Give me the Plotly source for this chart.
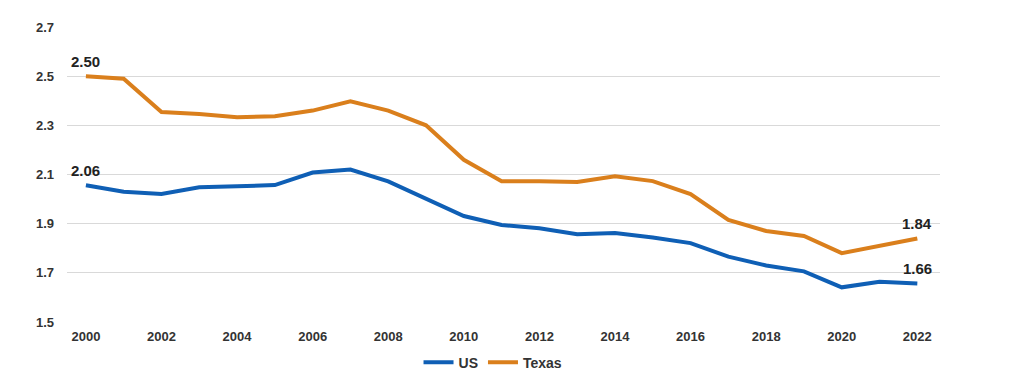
import plotly.graph_objects as go

years = list(range(2000, 2023))
us = [2.056, 2.030, 2.021, 2.048, 2.052, 2.057, 2.108, 2.120, 2.072, 2.002, 1.931,
      1.895, 1.881, 1.857, 1.862, 1.844, 1.821, 1.766, 1.730, 1.706, 1.641, 1.664, 1.657]
texas = [2.50, 2.49, 2.354, 2.346, 2.333, 2.337, 2.36, 2.398, 2.36, 2.30, 2.16,
         2.073, 2.073, 2.07, 2.093, 2.073, 2.02, 1.915, 1.87, 1.85, 1.78, 1.81, 1.84]
xticks = list(range(2000, 2023, 2))
yticks = [1.5, 1.7, 1.9, 2.1, 2.3, 2.5, 2.7]

blue = "#0F5FB5"
orange = "#DA7F1C"
font = "Liberation Sans, Arial, sans-serif"

fig = go.Figure()
fig.add_trace(go.Scatter(x=years, y=us, mode="lines", name="US",
                         line=dict(color=blue, width=4)))
fig.add_trace(go.Scatter(x=years, y=texas, mode="lines", name="Texas",
                         line=dict(color=orange, width=4)))

labels = [(years[0], texas[0]), (years[0], us[0]), (years[-1], texas[-1]), (years[-1], us[-1])]
for x, y in labels:
    fig.add_annotation(x=x, y=y, text=f"{y:.2f}", showarrow=False,
                       xanchor="center", yanchor="bottom", yshift=4,
                       font=dict(family=font, size=15, color="#222222", weight="bold"))

fig.update_layout(
    width=1024, height=384,
    margin=dict(l=59, r=92, t=19, b=70, autoexpand=False),
    plot_bgcolor="white", paper_bgcolor="white",
    font=dict(family=font, size=13, color="#333333", weight="bold"),
    legend=dict(orientation="h", x=0.488, xanchor="center",
                yref="container", y=0.035, yanchor="bottom",
                font=dict(family=font, size=14, color="#333333", weight="bold"),
                itemwidth=30, tracegroupgap=0),
    showlegend=True,
)
fig.update_xaxes(range=[1999.5, 2022.6], tickvals=xticks, showgrid=False,
                 zeroline=False, showline=False, ticks="", automargin=False,
                 ticklabelstandoff=5,
                 tickfont=dict(family=font, size=13, color="#333333", weight="bold"))
fig.update_yaxes(range=[1.5, 2.7], tickvals=yticks, tickformat=".1f",
                 showgrid=True, gridcolor="#D9D9D9", gridwidth=1,
                 zeroline=False, showline=False, ticks="", ticklabelstandoff=12,
                 automargin=False,
                 tickfont=dict(family=font, size=13, color="#333333", weight="bold"))

fig.write_html("out.html")
